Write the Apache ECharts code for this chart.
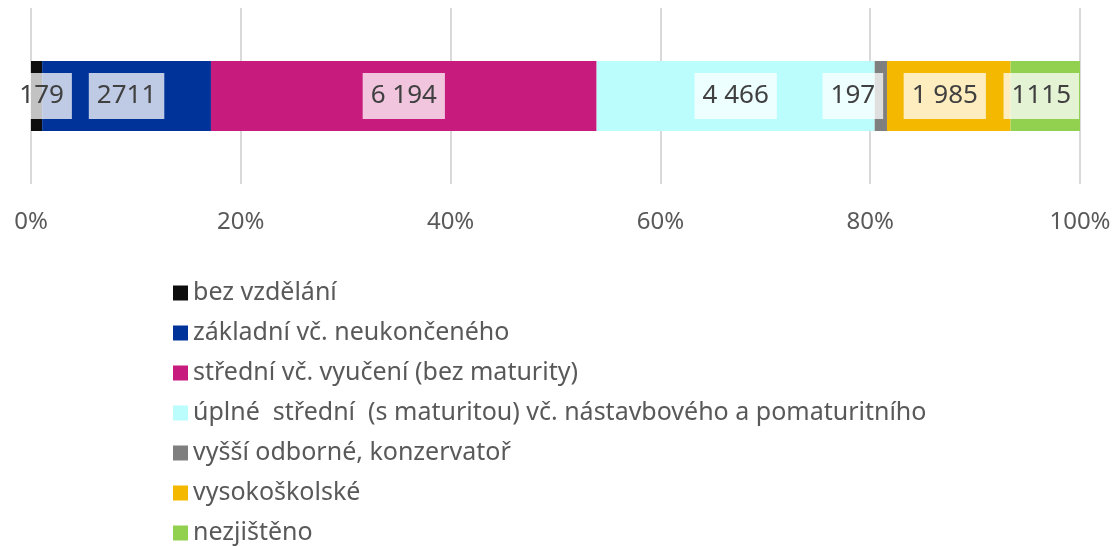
<!DOCTYPE html>
<html lang="cs">
<head>
    <meta charset="UTF-8">
    <title>Vzdělání</title>
    <style>
        html, body { margin: 0; padding: 0; background: #fff; }
        #chart { width: 1118px; height: 547px; }
    </style>
</head>
<body>
<div id="chart"></div>
<script src="https://cdn.jsdelivr.net/npm/echarts@6/dist/echarts.min.js"></script>
<script>
    var categories = ['bez vzdělání', 'základní vč. neukončeného', 'střední vč. vyučení (bez maturity)',
        'úplné  střední  (s maturitou) vč. nástavbového a pomaturitního', 'vyšší odborné, konzervatoř',
        'vysokoškolské', 'nezjištěno'];
    var values = [179, 2711, 6194, 4466, 197, 1985, 1115];
    var valueLabels = ['179', '2711', '6 194', '4 466', '197', '1 985', '1115'];
    var tickLabels = ['0%', '20%', '40%', '60%', '80%', '100%'];
    var colors = ['#0d0d0d', '#003399', '#c71b7d', '#bbfdfd', '#7f7f7f', '#f5b800', '#92d050'];
    var labelShift = [5, 0, 0, 0, -28, -4, -4];

    var total = values.reduce(function (a, b) { return a + b; }, 0);
    var font = '"Noto Sans", "Open Sans", sans-serif';

    var series = categories.map(function (name, i) {
        return {
            name: name,
            type: 'bar',
            stack: 'all',
            barWidth: 70,
            itemStyle: { color: colors[i] },
            label: {
                show: true,
                position: 'inside',
                offset: [labelShift[i], 0],
                formatter: valueLabels[i],
                fontFamily: font,
                fontSize: 26,
                lineHeight: 28,
                color: '#404040',
                backgroundColor: 'rgba(255,255,255,0.75)',
                padding: [9, 8, 9, 8]
            },
            data: [values[i] / total * 100]
        };
    });

    var chart = echarts.init(document.getElementById('chart'));
    chart.setOption({
        animation: false,
        textStyle: { fontFamily: font },
        grid: { left: 31, right: 38, top: 8, height: 176 },
        xAxis: {
            type: 'value',
            min: 0,
            max: 100,
            interval: 20,
            axisLine: { show: false },
            axisTick: { show: false },
            splitLine: { lineStyle: { color: '#d9d9d9', width: 2 } },
            axisLabel: {
                margin: 26,
                fontSize: 24,
                color: '#595959',
                formatter: function (v) { return tickLabels[v / 20]; }
            }
        },
        yAxis: {
            type: 'category',
            data: [''],
            show: false
        },
        legend: {
            orient: 'vertical',
            left: 173,
            top: 279,
            height: 268,
            padding: 0,
            itemWidth: 15,
            itemHeight: 15,
            itemGap: 12,
            icon: 'rect',
            textStyle: { fontSize: 25, color: '#595959', lineHeight: 28 },
            data: categories
        },
        series: series
    });
</script>
</body>
</html>
